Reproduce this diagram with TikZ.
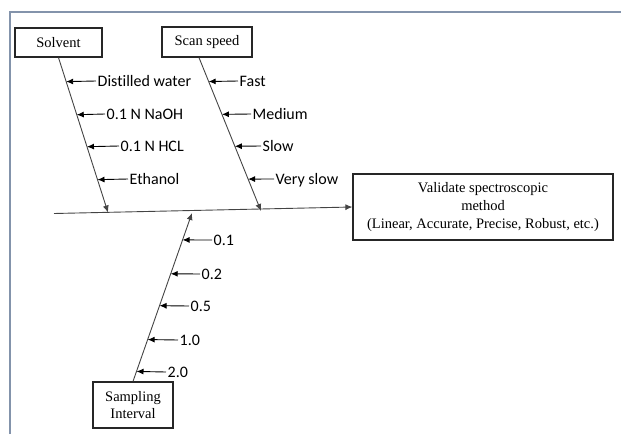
\documentclass[tikz,border=0pt]{standalone}
\usepackage{fontspec}
\setmainfont{Liberation Serif}
\newfontfamily\lblfont[Ligatures={NoCommon}]{Carlito}
\usetikzlibrary{arrows.meta,calc}
\definecolor{framec}{HTML}{8393AB}
\definecolor{linec}{HTML}{444444}
\tikzset{
  box/.style={draw=black!85, line width=1.2pt, inner sep=0pt, align=center,
    font=\fontsize{14.5}{18}\selectfont},
  lbl/.style={anchor=west, inner sep=1.5pt, text height=10.5pt, text depth=0pt,
    font=\lblfont\fontsize{16}{18}\selectfont},
  bone/.style={draw=linec, line width=0.9pt},
  arr/.style={draw=black, line width=0.9pt, -{Latex[length=7pt,width=6pt]}},
}
\begin{document}
\begin{tikzpicture}[x=1pt,y=-1pt]
\useasboundingbox (0,0) rectangle (621,434);
% frame
\draw[framec, line width=2pt] (9.5,434) -- (9.5,11.5) -- (621,11.5);

% boxes
\node[box, minimum width=87pt, minimum height=29pt] (solv) at (58.5,42.5) {Solvent};
\node[box, minimum width=90pt, minimum height=30pt] (scan) at (207,42) {Scan speed};
\node[box, minimum width=260pt, minimum height=66pt] (val) at (483,207)
  {Validate spectroscopic\\ method\\ (Linear, Accurate, Precise, Robust, etc.)};
\node[box, minimum width=80pt, minimum height=46pt, font=\fontsize{14.5}{17}\selectfont] (samp) at (133,405) {Sampling\\ Interval};

% spine
\coordinate (spineL) at (54,213.5);
\draw[arr, draw=linec] (spineL) -- (val.west);

% bone end points on spine
\coordinate (s1) at (108,212.5);
\coordinate (scanTop) at ($(scan.south)+(-8,0)$);
\coordinate (s2) at (261,211);
\coordinate (s3) at (192,213);

% bones
\draw[bone, -{Latex[length=7pt,width=6pt]}] (solv.south) -- (s1);
\draw[bone, -{Latex[length=7pt,width=6pt]}] (scanTop) -- (s2);
\draw[bone, -{Latex[length=7pt,width=6pt]}] (samp.north) -- (s3);

% solvent labels
\node[lbl] (dw) at (96,81) {Distilled water};
\node[lbl] (naoh) at (105,114) {0.1 N NaOH};
\node[lbl] (hcl) at (119,146) {0.1 N HCL};
\node[lbl] (eth) at (128,179) {Ethanol};
\draw[arr] (dw.west) -- ($(solv.south)!0.155!(s1)$);
\draw[arr] (naoh.west) -- ($(solv.south)!0.3687!(s1)$);
\draw[arr] (hcl.west) -- ($(solv.south)!0.5752!(s1)$);
\draw[arr] (eth.west) -- ($(solv.south)!0.7879!(s1)$);

% scan labels
\node[lbl] (fast) at (238,81) {Fast};
\node[lbl] (med) at (251,114) {Medium};
\node[lbl] (slow) at (261,146) {Slow};
\node[lbl] (vslow) at (274,179) {Very slow};
\draw[arr] (fast.west) -- ($(scanTop)!0.156!(s2)$);
\draw[arr] (med.west) -- ($(scanTop)!0.370!(s2)$);
\draw[arr] (slow.west) -- ($(scanTop)!0.578!(s2)$);
\draw[arr] (vslow.west) -- ($(scanTop)!0.792!(s2)$);

% sampling labels
\node[lbl] (a1) at (212,240) {0.1};
\node[lbl] (a2) at (200,274) {0.2};
\node[lbl] (a3) at (189,306) {0.5};
\node[lbl] (a4) at (178,340) {1.0};
\node[lbl] (a5) at (166,372) {2.0};
\draw[arr] (a1.west) -- ($(samp.north)!0.8402!(s3)$);
\draw[arr] (a2.west) -- ($(samp.north)!0.6391!(s3)$);
\draw[arr] (a3.west) -- ($(samp.north)!0.4497!(s3)$);
\draw[arr] (a4.west) -- ($(samp.north)!0.2485!(s3)$);
\draw[arr] (a5.west) -- ($(samp.north)!0.0592!(s3)$);
\end{tikzpicture}
\end{document}
